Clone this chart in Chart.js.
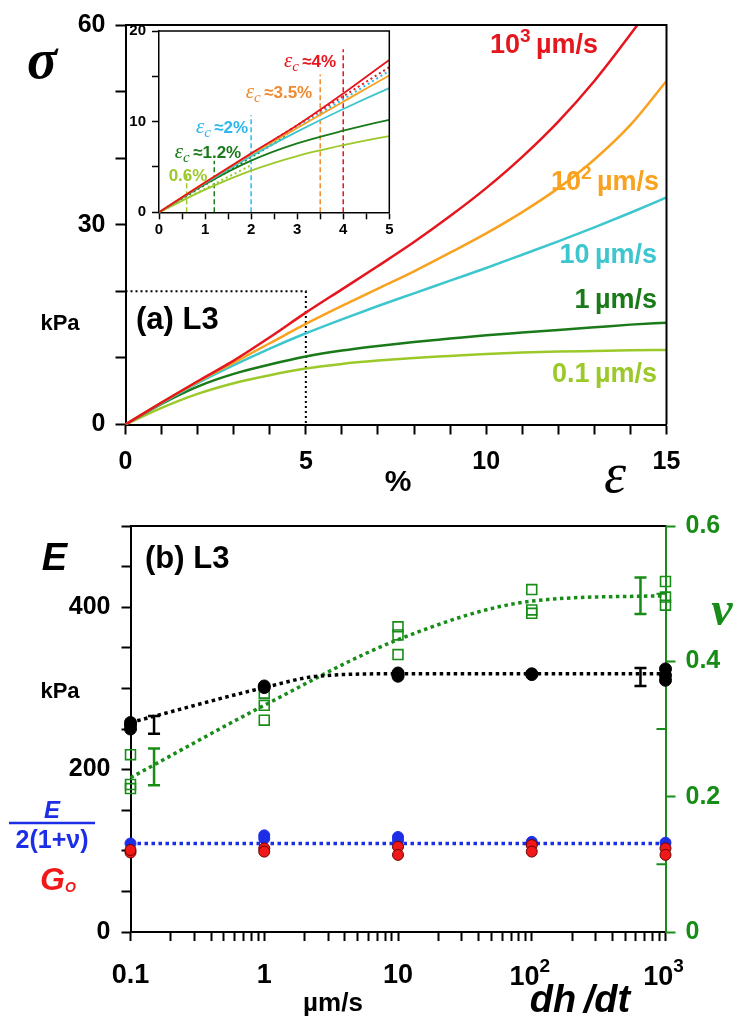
<!DOCTYPE html>
<html>
<head>
<meta charset="utf-8">
<title>L3 stress-strain and moduli</title>
<script src="https://cdn.jsdelivr.net/npm/chart.js@4.4.1/dist/chart.umd.min.js"></script>
<style>
  html, body { margin: 0; padding: 0; background: #fff; }
  #page { position: relative; width: 737px; height: 1021px; overflow: hidden; }
  canvas { position: absolute; }
  #top { left: 0; top: 0; }
  #inset { left: 125px; top: 16px; }
  #bottom { left: 0; top: 500px; }
</style>
</head>
<body>
<div id="page">
  <canvas id="top" width="737" height="500"></canvas>
  <canvas id="bottom" width="737" height="521"></canvas>
  <canvas id="inset" width="275" height="230"></canvas>
</div>
<script>
// ── (a) stress vs strain, one curve per indentation speed ──────────────
const strain  = [0, 1, 2, 3, 4, 5, 6, 7, 8, 9, 10, 11, 12, 13, 14, 15];
const sig1000 = [0, 3.3, 6.5, 9.6, 13.1, 16.8, 20.3, 23.8, 27.4, 31.3, 35.5, 40.2, 45.5, 51.6, 58.6, 66.0];
const sig100  = [0, 3.3, 6.4, 9.3, 12.2, 15.1, 17.8, 20.4, 23.0, 25.8, 28.7, 31.9, 35.5, 39.8, 45.0, 51.6];
const sig10   = [0, 3.2, 6.2, 8.9, 11.4, 13.7, 15.8, 17.8, 19.7, 21.6, 23.5, 25.5, 27.5, 29.6, 31.8, 34.1];
const sig1    = [0, 3.1, 5.7, 7.6, 9.0, 10.2, 11.1, 11.8, 12.4, 12.9, 13.4, 13.8, 14.2, 14.6, 15.0, 15.3];
const sig01   = [0, 2.5, 4.6, 6.2, 7.4, 8.4, 9.1, 9.6, 10.0, 10.3, 10.6, 10.8, 10.95, 11.05, 11.15, 11.2];

// zoom window marked on the main plot
const boxX = [0, 5, 5];
const boxY = [20, 20, 0];

// critical strains (inset dashed markers) and how tall each marker is drawn
const epsC    = [0.6, 1.2, 2, 3.5, 4];
const epsCTop = [4.3, 5.7, 10.7, 15.2, 18.0];

// linear-elastic guides in the inset, from the origin to these end points
const elasticEndX = [2.0, 2.8, 5, 5];
const elasticEndY = [5.2, 8.5, 15.6, 16.0];

// ── (b) moduli vs speed ────────────────────────────────────────────────
const rates   = [0.1, 1, 10, 100, 1000];
const decadeBase = ['0.1', '1', '10', '10', '10'];
const decadeSup  = ['', '', '', '2', '3'];
const eVals   = [[250, 255, 258], [301, 303], [315, 317, 319], [317, 318], [310, 316, 324]];
const nuVals  = [[0.262, 0.218, 0.212], [0.353, 0.335, 0.313], [0.451, 0.439, 0.41], [0.506, 0.476, 0.471], [0.518, 0.495, 0.483]];
const gEVals  = [[109], [119, 115], [117, 113], [111, 109], [110]];
const g0Vals  = [[98, 101], [103, 99], [105, 95], [107, 99], [103, 95]];

const eFitX   = [0.1, 1, 2.5, 10, 100, 1000];
const eFitY   = [258, 301, 315, 318, 318, 318];
const nuFitX  = [0.1, 1, 10, 100, 1000];
const nuFitY  = [0.228, 0.335, 0.432, 0.489, 0.497];
const gFitX   = [0.1, 1000];
const gFitY   = [109, 109];

// error bars: speed, centre, half-width
const errX    = [0.15, 650];
const errE    = [255, 314];
const errEHalf = [11, 11];
const errNu   = [0.244, 0.497];
const errNuHalf = [0.027, 0.027];

const C = {
  red: '#e5161d', orange: '#f8a220', cyan: '#3ec6cf', dk: '#1a7a1a', lt: '#9cc92a',
  sky: '#2cb6ee', orangeDash: '#f08a30', green: '#178c17', blue: '#1c2fe6'
};
const SANS = "'Liberation Sans', Arial, sans-serif";
const SERIF = "'Liberation Serif', 'Times New Roman', serif";

Chart.defaults.font.family = SANS;
Chart.defaults.font.weight = 'bold';
Chart.defaults.color = '#000';
Chart.defaults.animation = false;
Chart.defaults.plugins.legend.display = false;
Chart.defaults.plugins.tooltip.enabled = false;

const xy = (xs, ys) => xs.map((x, i) => ({ x, y: ys[i] }));
const font = (size, style, fam) => `${style || ''} bold ${size}px ${fam || SANS}`.trim();

function axis(o) {
  const color = o.color || '#000';
  return {
    type: o.type || 'linear', position: o.position, min: o.min, max: o.max,
    border: { color, width: o.bw || 2 },
    grid: { drawOnChartArea: false, tickLength: o.tick, tickColor: color, tickWidth: o.bw || 2 },
    ticks: {
      stepSize: o.step, autoSkip: false, maxRotation: 0, padding: o.pad, color,
      font: { size: o.size, weight: 'bold' }, callback: o.label
    },
    afterFit: o.fit,
    afterBuildTicks: o.build
  };
}

// draws a run of differently styled text pieces on one baseline
function rich(ctx, parts, x, y, align) {
  let w = 0;
  for (const p of parts) { ctx.font = p.font; w += ctx.measureText(p.t).width; }
  let cx = align === 'right' ? x - w : align === 'center' ? x - w / 2 : x;
  ctx.textAlign = 'left';
  ctx.textBaseline = 'alphabetic';
  for (const p of parts) {
    ctx.font = p.font;
    ctx.fillStyle = p.color;
    ctx.fillText(p.t, cx, y + (p.dy || 0));
    cx += ctx.measureText(p.t).width;
  }
}

function rateLabel(ctx, base, sup, color, x, y) {
  const parts = [{ t: base, font: font(27), color }];
  if (sup) parts.push({ t: sup, font: font(19), color, dy: -11 });
  parts.push({ t: '\u2009µm/s', font: font(27), color });
  rich(ctx, parts, x, y, 'right');
}

function epsLabel(ctx, value, color, x, y, withEps) {
  const parts = [];
  if (withEps) {
    parts.push({ t: 'ε', font: `italic 21px ${SERIF}`, color });
    parts.push({ t: 'c', font: `italic 15px ${SERIF}`, color, dy: 4 });
    parts.push({ t: '\u2009≈', font: font(17), color });
  }
  parts.push({ t: value + '%', font: font(17), color });
  rich(ctx, parts, x, y, 'center');
}

const frame = {
  id: 'frame',
  beforeDraw(chart, args, opts) {
    if (!opts.fill) return;
    const { ctx, chartArea: a } = chart;
    ctx.save();
    ctx.fillStyle = opts.fill;
    ctx.fillRect(a.left, a.top, a.right - a.left, a.bottom - a.top);
    ctx.restore();
  },
  afterDatasetsDraw(chart, args, opts) {
    const { ctx, chartArea: a } = chart;
    ctx.save();
    ctx.strokeStyle = '#000';
    ctx.lineWidth = opts.width;
    ctx.beginPath();
    ctx.moveTo(a.left, a.top);
    ctx.lineTo(a.right, a.top);
    if (opts.right) ctx.lineTo(a.right, a.bottom);
    ctx.stroke();
    ctx.restore();
  }
};

function curve(ys, color, width) {
  return {
    data: xy(strain, ys), borderColor: color, borderWidth: width, pointRadius: 0,
    cubicInterpolationMode: 'monotone', fill: false
  };
}

// ── panel (a) ──────────────────────────────────────────────────────────
new Chart(document.getElementById('top'), {
  type: 'line',
  data: {
    datasets: [
      curve(sig1000, C.red, 2.5),
      curve(sig100, C.orange, 2.5),
      curve(sig10, C.cyan, 2.5),
      curve(sig1, C.dk, 2.5),
      curve(sig01, C.lt, 2.5),
      { data: xy(boxX, boxY), borderColor: '#000', borderWidth: 2, borderDash: [2, 3], pointRadius: 0, tension: 0 }
    ]
  },
  options: {
    responsive: false, devicePixelRatio: 1,
    layout: { padding: { left: 0, right: 70.5, top: 16, bottom: 0 } },
    scales: {
      x: axis({ min: 0, max: 15, step: 1, tick: 10, pad: 13, size: 25,
        label: v => (v % 5 === 0 ? v : ''), fit: s => { s.height = 75.5; } }),
      y: axis({ min: 0, max: 60, step: 10, tick: 10, pad: 10, size: 25,
        label: v => (v % 30 === 0 ? v : ''), fit: s => { s.width = 125.5; } })
    },
    plugins: { frame: { width: 2, right: true } }
  },
  plugins: [frame, {
    id: 'topText',
    afterDraw(chart) {
      const ctx = chart.ctx;
      ctx.save();
      rateLabel(ctx, '10', '3', C.red, 598, 53);
      rateLabel(ctx, '10', '2', C.orange, 659, 190);
      rateLabel(ctx, '10', '', C.cyan, 657, 263);
      rateLabel(ctx, '1', '', C.dk, 657, 308);
      rateLabel(ctx, '0.1', '', C.lt, 657, 382);
      rich(ctx, [{ t: '(a) L3', font: font(31), color: '#000' }], 136, 329, 'left');
      rich(ctx, [{ t: 'kPa', font: font(22), color: '#000' }], 60, 330, 'center');
      rich(ctx, [{ t: 'σ', font: `italic bold 56px ${SERIF}`, color: '#000' }], 42, 78, 'center');
      rich(ctx, [{ t: '%', font: font(30), color: '#000' }], 398, 491, 'center');
      rich(ctx, [{ t: 'ε', font: `italic 56px ${SERIF}`, color: '#000' }], 615, 492, 'center');
      ctx.restore();
    }
  }]
});

// ── inset: first 5 % of strain ─────────────────────────────────────────
const epsColors = [C.lt, C.dk, C.sky, C.orangeDash, C.red];
const elasticColors = [C.lt, C.dk, C.sky, C.red];
const insetSets = [
  curve(sig1000, C.red, 1.8),
  curve(sig100, C.orange, 1.8),
  curve(sig10, C.cyan, 1.8),
  curve(sig1, C.dk, 1.8),
  curve(sig01, C.lt, 1.8)
];
elasticEndX.forEach((ex, i) => insetSets.push({
  data: [{ x: 0, y: 0 }, { x: ex, y: elasticEndY[i] }], borderColor: elasticColors[i],
  borderWidth: 2, borderDash: [2, 3], pointRadius: 0
}));
epsC.forEach((e, i) => insetSets.push({
  data: [{ x: e, y: 0 }, { x: e, y: epsCTop[i] }], borderColor: epsColors[i],
  borderWidth: 1.5, borderDash: [5, 3], pointRadius: 0
}));

new Chart(document.getElementById('inset'), {
  type: 'line',
  data: { datasets: insetSets },
  options: {
    responsive: false, devicePixelRatio: 1,
    layout: { padding: { left: 0, right: 10.7, top: 14, bottom: 0 } },
    scales: {
      x: axis({ min: 0, max: 5, step: 0.5, tick: 7, pad: 2, size: 15, bw: 1.5,
        label: v => (Number.isInteger(v) ? v : ''), fit: s => { s.height = 33.7; } }),
      y: axis({ min: 0, max: 20, step: 5, tick: 7, pad: 6, size: 15, bw: 1.5,
        label: v => (v % 10 === 0 ? v : ''), fit: s => { s.width = 34; } })
    },
    plugins: { frame: { width: 1.5, right: true, fill: '#fff' } }
  },
  plugins: [frame, {
    id: 'insetText',
    afterDraw(chart) {
      const ctx = chart.ctx;
      const ox = 125, oy = 16;
      ctx.save();
      epsLabel(ctx, epsC[4], C.red, 310 - ox, 67 - oy, true);
      epsLabel(ctx, epsC[3], C.orangeDash, 279 - ox, 98 - oy, true);
      epsLabel(ctx, epsC[2], C.sky, 222 - ox, 133 - oy, true);
      epsLabel(ctx, epsC[1], C.dk, 208 - ox, 158 - oy, true);
      epsLabel(ctx, epsC[0], C.lt, 188 - ox, 181 - oy, false);
      ctx.restore();
    }
  }]
});

// ── panel (b) ──────────────────────────────────────────────────────────
const pts = vals => rates.flatMap((r, i) => vals[i].map(v => ({ x: r, y: v })));

const logTicks = [];
rates.slice(0, -1).forEach(d => { for (let k = 1; k < 10; k++) logTicks.push(k * d); });
logTicks.push(rates[rates.length - 1]);

const decadeIndex = v => rates.findIndex(d => Math.abs(d - v) / d < 1e-6);
// plain decade labels come from the axis; the powers of ten are set with a raised exponent below
const decadeLabel = v => {
  const i = decadeIndex(v);
  return i >= 0 && !decadeSup[i] ? decadeBase[i] : '';
};

const dotted = { borderWidth: 3.5, borderDash: [3.5, 3.5], pointRadius: 0, showLine: true, clip: false };

const errorBars = {
  id: 'errorBars',
  afterDatasetsDraw(chart) {
    const { ctx, scales } = chart;
    const bar = (x, lo, hi, ys, color) => {
      const px = scales.x.getPixelForValue(x);
      const y1 = ys.getPixelForValue(lo), y2 = ys.getPixelForValue(hi);
      ctx.strokeStyle = color;
      ctx.lineWidth = 2.5;
      ctx.beginPath();
      ctx.moveTo(px, y1); ctx.lineTo(px, y2);
      ctx.moveTo(px - 6, y1); ctx.lineTo(px + 6, y1);
      ctx.moveTo(px - 6, y2); ctx.lineTo(px + 6, y2);
      ctx.stroke();
    };
    ctx.save();
    errX.forEach((x, i) => {
      bar(x, errE[i] - errEHalf[i], errE[i] + errEHalf[i], scales.y, '#000');
      bar(x, errNu[i] - errNuHalf[i], errNu[i] + errNuHalf[i], scales.y1, C.green);
    });
    ctx.restore();
  }
};

// minor ticks of the Poisson axis point into the plot; decade powers get a raised exponent
const axisExtras = {
  id: 'axisExtras',
  afterDraw(chart) {
    const { ctx, scales, chartArea: a } = chart;
    ctx.save();
    ctx.strokeStyle = C.green;
    ctx.lineWidth = 2;
    ctx.beginPath();
    [0.1, 0.3, 0.5].forEach(v => {
      const py = scales.y1.getPixelForValue(v);
      ctx.moveTo(a.right, py); ctx.lineTo(a.right - 9, py);
    });
    ctx.stroke();
    rates.forEach((r, i) => {
      if (!decadeSup[i]) return;
      const px = scales.x.getPixelForValue(r);
      rich(ctx, [{ t: decadeBase[i], font: font(27), color: '#000' },
                 { t: decadeSup[i], font: font(19), color: '#000', dy: -13 }], px - 2, a.bottom + 53, 'center');
    });
    ctx.restore();
  }
};

new Chart(document.getElementById('bottom'), {
  type: 'scatter',
  data: {
    datasets: [
      { data: pts(g0Vals), yAxisID: 'y', pointRadius: 5.5, backgroundColor: '#f01818', borderColor: '#6a0000', borderWidth: 1, clip: false },
      { data: pts(gEVals), yAxisID: 'y', pointRadius: 5.5, backgroundColor: C.blue, borderColor: C.blue, borderWidth: 1, clip: false },
      { data: pts(eVals), yAxisID: 'y', pointRadius: 6, backgroundColor: '#000', borderColor: '#000', borderWidth: 1, clip: false },
      { data: pts(nuVals), yAxisID: 'y1', pointStyle: 'rect', pointRadius: 7, backgroundColor: 'rgba(255,255,255,0)', borderColor: C.green, borderWidth: 1.6, clip: false },
      Object.assign({ data: xy(eFitX, eFitY), yAxisID: 'y', borderColor: '#000', cubicInterpolationMode: 'monotone' }, dotted),
      Object.assign({ data: xy(nuFitX, nuFitY), yAxisID: 'y1', borderColor: C.green, cubicInterpolationMode: 'monotone' }, dotted),
      Object.assign({ data: xy(gFitX, gFitY), yAxisID: 'y', borderColor: C.blue }, dotted)
    ]
  },
  options: {
    responsive: false, devicePixelRatio: 1,
    layout: { padding: { left: 0, right: 0, top: 26, bottom: 0 } },
    scales: {
      x: axis({ type: 'logarithmic', min: 0.1, max: 1000, tick: 9, pad: 18, size: 27,
        label: decadeLabel, fit: s => { s.height = 89; },
        build: ax => { ax.ticks = logTicks.map(v => ({ value: v })); } }),
      y: axis({ min: 0, max: 500, step: 50, tick: 9, pad: 11, size: 25,
        label: v => (v % 200 === 0 ? v : ''), fit: s => { s.width = 130.5; } }),
      y1: axis({ position: 'right', min: 0, max: 0.6, step: 0.2, tick: 10, pad: 10, size: 25, color: C.green,
        label: v => (v === 0 ? '0' : v.toFixed(1)), fit: s => { s.width = 71.5; } })
    },
    plugins: { frame: { width: 2, right: false } }
  },
  plugins: [frame, errorBars, axisExtras, {
    id: 'bottomText',
    afterDraw(chart) {
      const ctx = chart.ctx;
      ctx.save();
      rich(ctx, [{ t: 'E', font: font(38, 'italic'), color: '#000' }], 67, 70, 'right');
      rich(ctx, [{ t: '(b) L3', font: font(31), color: '#000' }], 145, 68, 'left');
      rich(ctx, [{ t: 'kPa', font: font(22), color: '#000' }], 60, 198, 'center');
      rich(ctx, [{ t: 'E', font: font(24, 'italic'), color: C.blue }], 52, 318, 'center');
      ctx.strokeStyle = C.blue;
      ctx.lineWidth = 2.5;
      ctx.beginPath(); ctx.moveTo(9, 323); ctx.lineTo(95, 323); ctx.stroke();
      rich(ctx, [{ t: '2(1+ν)', font: font(25), color: C.blue }], 52, 348, 'center');
      rich(ctx, [{ t: 'G', font: font(32, 'italic'), color: '#f01818' },
                 { t: 'O', font: font(14, 'italic'), color: '#f01818', dy: 2 }], 58, 390, 'center');
      rich(ctx, [{ t: 'ν', font: `italic bold 48px ${SERIF}`, color: C.green }], 722, 125, 'center');
      rich(ctx, [{ t: 'µm/s', font: font(26), color: '#000' }], 333, 511, 'center');
      rich(ctx, [{ t: 'dh\u2009/dt', font: font(38, 'italic'), color: '#000' }], 580, 512, 'center');
      ctx.restore();
    }
  }]
});
</script>
</body>
</html>
